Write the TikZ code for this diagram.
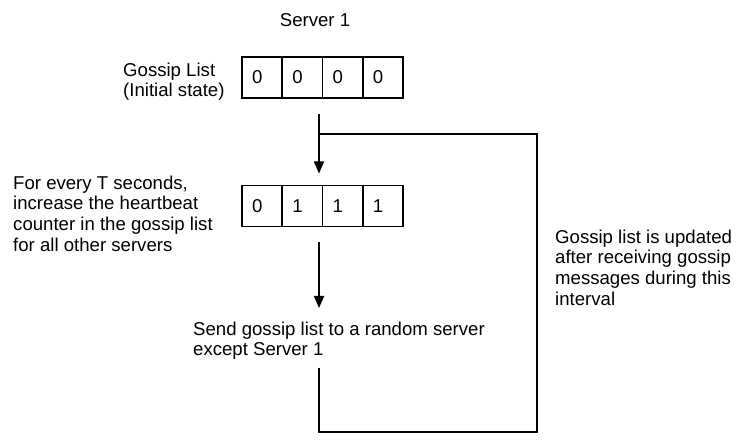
\documentclass[tikz,border=0pt]{standalone}
\usepackage{fontspec}
\setmainfont{Liberation Sans}
\usetikzlibrary{positioning,arrows.meta}
\begin{document}
\begin{tikzpicture}[x=1pt,y=-1pt,
  font=\fontsize{18.6}{20.7}\selectfont,
  cell/.style={draw, line width=1.6pt, minimum width=40.25pt, minimum height=41pt,
    text width=20pt, inner xsep=10pt, align=left, outer sep=0pt},
  note/.style={align=left, inner sep=0pt, anchor=north west},
  flow/.style={line width=1.6pt},
  arr/.style={flow, -{Triangle[width=10pt,length=12pt]}}]
\useasboundingbox (0,0) rectangle (744,443);
% title
\node[anchor=base] (server) at (315,27) {Server 1};
% initial list
\node[note] (initlbl) at (123,62.5) {Gossip List\\(Initial state)};
\node[cell] (i1) at (262.1,77.5) {0};
\node[cell, right=0pt of i1] (i2) {0};
\node[cell, right=0pt of i2] (i3) {0};
\node[cell, right=0pt of i3] (i4) {0};
% heartbeat list
\node[note] (hblbl) at (13,175.5) {For every T seconds,\\increase the heartbeat\\counter in the gossip list\\for all other servers};
\node[cell] (h1) at (262.1,206) {0};
\node[cell, right=0pt of h1] (h2) {1};
\node[cell, right=0pt of h2] (h3) {1};
\node[cell, right=0pt of h3] (h4) {1};
% send step
\node[note] (sendlbl) at (193,321.4) {Send gossip list to a random server\\except Server 1};
\node[note] (updlbl) at (555,229.5) {Gossip list is updated\\after receiving gossip\\messages during this\\interval};
% connectors
\coordinate (tick) at (319,114);
\coordinate (join) at (319,134);
\coordinate (out) at (319,242);
\coordinate (sendtop) at (319,308);
\coordinate (loopbot) at (319,368);
\coordinate (cornerl) at (319,432);
\coordinate (cornerr) at (537,432);
\draw[arr, shorten >=12pt] (tick) -- (tick |- h2.north);
\draw[arr] (out) -- (sendtop);
\draw[flow] (loopbot) -- (cornerl) -- (cornerr) |- (join);
\end{tikzpicture}
\end{document}
